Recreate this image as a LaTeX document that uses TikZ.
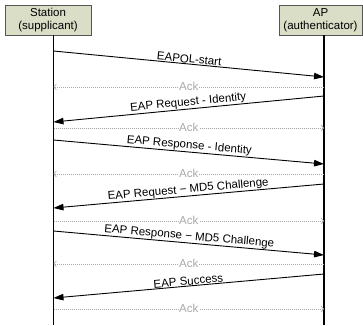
\documentclass[tikz,border=0pt]{standalone}
\usepackage{fontspec}
\setmainfont{Liberation Sans}
\usetikzlibrary{arrows.meta}
\definecolor{boxfill}{HTML}{DBDEC7}
\definecolor{boxline}{HTML}{555555}
\definecolor{ackgray}{HTML}{A8A8A8}

\begin{document}
\begin{tikzpicture}[x=1pt, y=1pt,
    font=\fontsize{11.5}{13.3}\selectfont,
    actor/.style={draw=boxline, fill=boxfill, line width=0.8pt, minimum height=30pt, align=center, inner sep=0pt},
    life/.style={line width=1.2pt},
    msg/.style={line width=0.9pt, -{Triangle[length=10pt, width=6.5pt]}},
    ack/.style={ackgray, line width=0.6pt, dash pattern=on 1pt off 1pt, -{Straight Barb[length=2.5pt, width=6pt]}},
    lbl/.style={sloped, above, inner sep=0.5pt},
    acklbl/.style={text=ackgray, fill=white, inner xsep=0.5pt, inner ysep=0pt, text height=7.5pt, text depth=0pt}]
  \useasboundingbox (0,0) rectangle (363,-325);
  \node[actor, minimum width=86pt] (station) at (48,-20) {Station\\(supplicant)};
  \node[actor, minimum width=83pt] (ap) at (320.5,-20) {AP\\(authenticator)};
  \coordinate (st) at (53.5,-35);
  \coordinate (au) at (324,-35);
  \coordinate (stend) at (53.5,-325);
  \coordinate (auend) at (324,-325);
  \draw[life] (st) -- (stend);
  \draw[life] (au) -- (auend);
  \draw[msg] (st |- 0,-51) -- node[lbl] {EAPOL-start} (au |- 0,-77);
  \draw[ack] (au |- 0,-87) -- node[acklbl] {Ack} (st |- 0,-87);
  \draw[msg] (au |- 0,-96) -- node[lbl] {EAP Request - Identity} (st |- 0,-122);
  \draw[ack] (st |- 0,-128) -- node[acklbl] {Ack} (au |- 0,-128);
  \draw[msg] (st |- 0,-140) -- node[lbl] {EAP Response - Identity} (au |- 0,-164);
  \draw[ack] (au |- 0,-174) -- node[acklbl] {Ack} (st |- 0,-174);
  \draw[msg] (au |- 0,-184) -- node[lbl] {EAP Request − MD5 Challenge} (st |- 0,-208);
  \draw[ack] (st |- 0,-221) -- node[acklbl] {Ack} (au |- 0,-221);
  \draw[msg] (st |- 0,-231) -- node[lbl] {EAP Response − MD5 Challenge} (au |- 0,-255);
  \draw[ack] (au |- 0,-264) -- node[acklbl] {Ack} (st |- 0,-264);
  \draw[msg] (au |- 0,-274) -- node[lbl] {EAP Success} (st |- 0,-298);
  \draw[ack] (st |- 0,-309) -- node[acklbl] {Ack} (au |- 0,-309);
\end{tikzpicture}
\end{document}
